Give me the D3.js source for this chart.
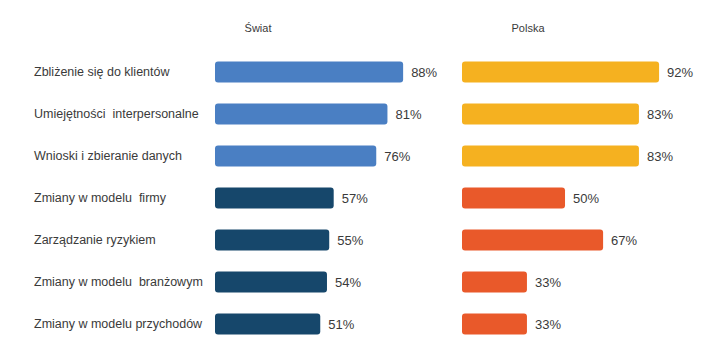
<!DOCTYPE html>
<html>
<head>
<meta charset="utf-8">
<script src="https://cdn.jsdelivr.net/npm/d3@7"></script>
<style>
  html, body { margin: 0; padding: 0; background: #fff; }
  svg text { font-family: "Liberation Sans", Arial, sans-serif; fill: #3a3a3a; white-space: pre; }
</style>
</head>
<body>
<div id="chart"></div>
<script>
const categories = [
  'Zbliżenie się do klientów',
  'Umiejętności  interpersonalne',
  'Wnioski i zbieranie danych',
  'Zmiany w modelu  firmy',
  'Zarządzanie ryzykiem',
  'Zmiany w modelu  branżowym',
  'Zmiany w modelu przychodów'
]
const swiat = [88, 81, 76, 57, 55, 54, 51]
const polska = [92, 83, 83, 50, 67, 33, 33]
const panelTitles = ['Świat', 'Polska']

const width = 727
const height = 344

const svg = d3.select('#chart')
  .append('svg')
  .attr('width', width)
  .attr('height', height)

const y = d3.scaleBand()
  .domain(categories)
  .range([51, 345])
  .paddingInner(0.5)
  .paddingOuter(0.25)

const panels = [
  { title: panelTitles[0], values: swiat, x0: 215, titleX: 258, colors: ['#4a7fc3', '#16476b'] },
  { title: panelTitles[1], values: polska, x0: 462, titleX: 528, colors: ['#f5b120', '#e9592a'] }
]

// category labels
svg.append('g')
  .selectAll('text')
  .data(categories)
  .enter()
  .append('text')
  .attr('x', 34)
  .attr('y', d => y(d) + y.bandwidth() / 2)
  .attr('dy', '0.35em')
  .attr('font-size', 12.5)
  .attr('textLength', null)
  .text(d => d)

panels.forEach(p => {
  // the original bars start a little below zero, so the domain begins at 4
  const x = d3.scaleLinear().domain([4, 100]).range([p.x0, p.x0 + 215])
  const g = svg.append('g')

  g.append('text')
    .attr('x', p.titleX)
    .attr('y', 28)
    .attr('dy', '0.35em')
    .attr('text-anchor', 'middle')
    .attr('font-size', 11)
    .text(p.title)

  g.selectAll('rect')
    .data(p.values)
    .enter()
    .append('rect')
    .attr('x', x.range()[0])
    .attr('y', (d, i) => y(categories[i]))
    .attr('width', d => x(d) - x.range()[0])
    .attr('height', y.bandwidth())
    .attr('rx', 3)
    .attr('fill', (d, i) => (i < 3 ? p.colors[0] : p.colors[1]))

  g.selectAll('text.val')
    .data(p.values)
    .enter()
    .append('text')
    .attr('class', 'val')
    .attr('x', d => x(d) + 8)
    .attr('y', (d, i) => y(categories[i]) + y.bandwidth() / 2)
    .attr('dy', '0.35em')
    .attr('font-size', 13)
    .text(d => d + '%')
})
</script>
</body>
</html>
